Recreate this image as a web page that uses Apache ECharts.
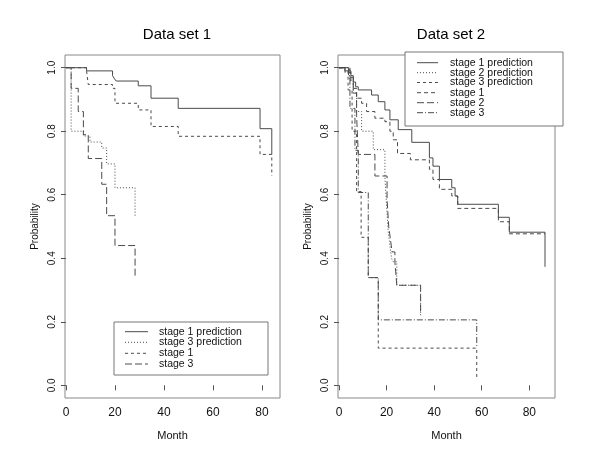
<!DOCTYPE html>
<html>
<head>
<meta charset="utf-8">
<script src="https://cdn.jsdelivr.net/npm/echarts@6/dist/echarts.min.js"></script>
<style>
  html, body { margin: 0; padding: 0; background: #fff; }
  #chart { width: 600px; height: 463px; }
</style>
</head>
<body>
<div id="chart"></div>
<script>
// ---- Tick labels ----
const xTicks = [0, 20, 40, 60, 80];
const yTicks = [0, 0.2, 0.4, 0.6, 0.8, 1.0];

// ---- Data set 1 (time in months, survival probability) ----
const ds1Stage1PredT = [0, 8.4, 19, 19.8, 20.5, 29.5, 34.7, 45.8, 79.2, 84];
const ds1Stage1PredP = [1, 0.99, 0.975, 0.965, 0.958, 0.943, 0.904, 0.872, 0.808, 0.727];
const ds1Stage3PredT = [0, 2.1, 7.1, 9.8, 14.6, 16.6, 20, 28.2];
const ds1Stage3PredP = [1, 0.80, 0.785, 0.766, 0.747, 0.697, 0.622, 0.529];
const ds1Stage1T = [0, 8.4, 9.1, 19, 20, 29.5, 34.7, 45.8, 79.2, 84];
const ds1Stage1P = [1, 0.99, 0.947, 0.935, 0.888, 0.867, 0.815, 0.784, 0.727, 0.659];
const ds1Stage3T = [0, 2.1, 5, 7.1, 9.1, 14.6, 16.6, 20, 28.2];
const ds1Stage3P = [1, 0.935, 0.862, 0.789, 0.714, 0.633, 0.534, 0.44, 0.342];

// ---- Data set 2 ----
const ds2Stage1PredT = [0, 2.5, 5, 6, 7, 8.1, 13.7, 16.5, 19.3, 21.4, 24.9, 30.6, 38, 39.5, 42.2, 47.4, 48.8, 49.9, 67, 71.6, 86.6];
const ds2Stage1PredP = [1, 0.99, 0.975, 0.955, 0.94, 0.93, 0.914, 0.893, 0.867, 0.836, 0.805, 0.765, 0.716, 0.69, 0.648, 0.622, 0.596, 0.570, 0.529, 0.482, 0.373];
const ds2Stage2PredT = [0, 4.5, 6, 7.4, 9.5, 14.4, 19.3, 20.0, 20.7, 21.4, 22.1, 22.8, 24.3, 34.3];
const ds2Stage2PredP = [1, 0.96, 0.92, 0.862, 0.80, 0.742, 0.655, 0.565, 0.483, 0.44, 0.40, 0.389, 0.315, 0.221];
const ds2Stage3PredT = [0, 3.8, 5.5, 7.4, 9.3, 12.3, 16.5, 57.9];
const ds2Stage3PredP = [1, 0.93, 0.80, 0.61, 0.466, 0.339, 0.117, 0.023];
const ds2Stage1T = [0, 2.5, 5, 6, 7.4, 9.5, 11.6, 15.1, 19.3, 21.4, 22.8, 24.6, 30, 38, 39.5, 42.2, 47.4, 49.9, 67, 71.6, 86.6];
const ds2Stage1P = [1, 0.985, 0.96, 0.935, 0.904, 0.888, 0.862, 0.841, 0.83, 0.80, 0.773, 0.73, 0.71, 0.68, 0.648, 0.617, 0.596, 0.557, 0.515, 0.477, 0.477];
const ds2Stage2T = [0, 4, 6, 7.4, 8.1, 15.1, 20.2, 20.9, 21.6, 22.3, 23.5, 24.3, 34.3];
const ds2Stage2P = [1, 0.97, 0.92, 0.85, 0.727, 0.659, 0.586, 0.50, 0.461, 0.42, 0.388, 0.315, 0.221];
const ds2Stage3T = [0, 4.6, 6.7, 8.1, 12.3, 16.5, 57.9];
const ds2Stage3P = [1, 0.872, 0.74, 0.607, 0.339, 0.206, 0.117];

// ---- Titles / names ----
const panelTitles = ['Data set 1', 'Data set 2'];
const ds1Names = ['stage 1 prediction', 'stage 3 prediction', 'stage 1', 'stage 3'];
const ds2Names = ['stage 1 prediction', 'stage 2 prediction', 'stage 3 prediction', 'stage 1', 'stage 2', 'stage 3'];

// ---- styles ----
const FONT = '"Liberation Sans", Arial, Helvetica, sans-serif';
const LINE = '#4a4a4a';
const DASH = {
  solid: 'solid',
  dotted: [1, 2],
  shortdash: [3, 3],
  dash: [4, 3],
  longdash: [7, 3],
  dashdot: [6, 2, 1, 2]
};
const ds1Styles = [DASH.solid, DASH.dotted, DASH.shortdash, DASH.longdash];
const ds2Styles = [DASH.solid, DASH.dotted, DASH.shortdash, DASH.dash, DASH.longdash, DASH.dashdot];

function zip(t, p) { return t.map((v, i) => [v, p[i]]); }

const ds1Series = [
  zip(ds1Stage1PredT, ds1Stage1PredP),
  zip(ds1Stage3PredT, ds1Stage3PredP),
  zip(ds1Stage1T, ds1Stage1P),
  zip(ds1Stage3T, ds1Stage3P)
];
const ds2Series = [
  zip(ds2Stage1PredT, ds2Stage1PredP),
  zip(ds2Stage2PredT, ds2Stage2PredP),
  zip(ds2Stage3PredT, ds2Stage3PredP),
  zip(ds2Stage1T, ds2Stage1P),
  zip(ds2Stage2T, ds2Stage2P),
  zip(ds2Stage3T, ds2Stage3P)
];

function mkSeries(dataList, names, styles, idx) {
  return dataList.map((d, i) => ({
    type: 'line',
    name: names[i],
    xAxisIndex: idx,
    yAxisIndex: idx,
    step: 'end',
    symbol: 'none',
    silent: true,
    animation: false,
    data: d,
    lineStyle: { color: LINE, width: 1, type: styles[i] }
  }));
}

function mkX(idx, min, max) {
  return {
    type: 'value', gridIndex: idx, min: min, max: max,
    axisLine: { show: false },
    splitLine: { show: false },
    axisTick: { show: true, length: 5, customValues: xTicks, lineStyle: { color: '#555' } },
    axisLabel: { customValues: xTicks, fontFamily: FONT, fontSize: 12, color: '#111', margin: 9 },
    name: 'Month', nameLocation: 'middle', nameGap: 32,
    nameTextStyle: { fontFamily: FONT, fontSize: 11, color: '#111' }
  };
}
function mkY(idx) {
  return {
    type: 'value', gridIndex: idx, min: -0.04, max: 1.04,
    axisLine: { show: false },
    splitLine: { show: false },
    axisTick: { show: true, length: 5, customValues: yTicks, lineStyle: { color: '#555' } },
    axisLabel: { customValues: yTicks, rotate: 90, fontFamily: FONT, fontSize: 10, color: '#111', margin: 8,
      formatter: v => Number(v).toFixed(1) },
    name: 'Probability', nameLocation: 'middle', nameGap: 25,
    nameTextStyle: { fontFamily: FONT, fontSize: 10, color: '#111' }
  };
}

function legendGraphics(x, y, w, h, lineX1, lineX2, textX, rowYs, names, styles) {
  const els = [{
    type: 'rect', shape: { x: x, y: y, width: w, height: h },
    style: { fill: '#fff', stroke: '#777', lineWidth: 1 }, z: 100
  }];
  names.forEach((n, i) => {
    els.push({
      type: 'line', shape: { x1: lineX1, y1: rowYs[i], x2: lineX2, y2: rowYs[i] },
      style: { stroke: LINE, lineWidth: 1, lineDash: styles[i] === 'solid' ? null : styles[i] }, z: 101
    });
    els.push({
      type: 'text', x: textX, y: rowYs[i],
      style: { text: n, font: '10.5px ' + FONT, fill: '#111', verticalAlign: 'middle', textAlign: 'left' }, z: 101
    });
  });
  return els;
}

const chart = echarts.init(document.getElementById('chart'), null, { renderer: 'canvas' });
chart.setOption({
  animation: false,
  backgroundColor: '#fff',
  title: [
    { text: panelTitles[0], left: 172, top: 22, textAlign: 'center',
      textStyle: { fontFamily: FONT, fontSize: 15, fontWeight: 'normal', color: '#000' } },
    { text: panelTitles[1], left: 446, top: 22, textAlign: 'center',
      textStyle: { fontFamily: FONT, fontSize: 15, fontWeight: 'normal', color: '#000' } }
  ],
  grid: [
    { left: 65, top: 55, width: 215, height: 343, show: true, borderColor: '#888', borderWidth: 1, backgroundColor: 'transparent' },
    { left: 338, top: 55, width: 217, height: 343, show: true, borderColor: '#888', borderWidth: 1, backgroundColor: 'transparent' }
  ],
  xAxis: [mkX(0, -0.4, 87.35), mkX(1, -0.42, 90.8)],
  yAxis: [mkY(0), mkY(1)],
  series: mkSeries(ds1Series, ds1Names, ds1Styles, 0).concat(mkSeries(ds2Series, ds2Names, ds2Styles, 1)),
  graphic: legendGraphics(114, 322, 154, 53, 125, 148, 159, [331.7, 342.3, 353.3, 364], ds1Names, ds1Styles)
    .concat(legendGraphics(405, 52, 158, 74, 417, 438, 450, [62.7, 72.7, 82.5, 92.7, 102.7, 112.7], ds2Names, ds2Styles))
});
</script>
</body>
</html>
